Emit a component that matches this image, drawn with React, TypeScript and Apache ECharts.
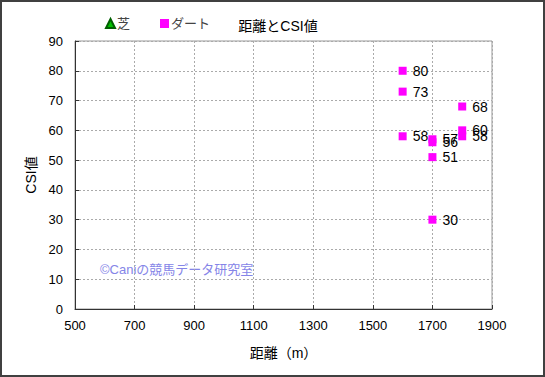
import React, { useEffect, useRef } from "react";
import * as echarts from "echarts";

const seriesNames = ["芝", "ダート"];
const turfPoints: [number, number][] = [];
const dirtDistances = [1600, 1600, 1600, 1700, 1700, 1700, 1700, 1800, 1800, 1800];
const dirtCsi = [80, 73, 58, 57, 56, 51, 30, 68, 60, 58];
const xTicks = { min: 500, max: 1900, interval: 200 };
const yTicks = { min: 0, max: 90, interval: 10 };

const FONT = "'Liberation Sans', 'Noto Sans CJK JP', sans-serif";

export default function App() {
  const ref = useRef<HTMLDivElement>(null);
  useEffect(() => {
    document.body.style.margin = "0";
    const chart = echarts.init(ref.current!, undefined, { renderer: "svg" });
    const dirtData = dirtDistances.map((d, i) => [d, dirtCsi[i]]);
    chart.setOption({
      animation: false,
      backgroundColor: "#ffffff",
      textStyle: { fontFamily: FONT },
      title: {
        text: "距離とCSI値",
        left: 273,
        textAlign: "center",
        top: 14,
        textStyle: { fontSize: 14, fontWeight: "normal", color: "#000", fontFamily: FONT },
      },
      legend: {
        left: 100,
        top: 12,
        itemWidth: 9,
        itemHeight: 9,
        itemGap: 30,
        data: seriesNames,
        textStyle: { fontSize: 13, color: "#444", fontFamily: FONT, padding: [0, 0, 0, -3] },
      },
      grid: {
        left: 75,
        right: 53,
        top: 41,
        bottom: 68,
        show: true,
        borderColor: "#999",
        borderWidth: 1,
      },
      xAxis: {
        type: "value",
        min: xTicks.min,
        max: xTicks.max,
        interval: xTicks.interval,
        name: "距離（m）",
        nameLocation: "middle",
        nameGap: 37,
        nameTextStyle: { fontSize: 14, color: "#000", fontFamily: FONT },
        axisLine: { show: true, onZero: false, lineStyle: { color: "#333" } },
        axisTick: { show: true, inside: true, length: 4, lineStyle: { color: "#333" } },
        axisLabel: { fontSize: 13, color: "#000", margin: 10, fontFamily: FONT, formatter: (v: number) => String(v) },
        splitLine: { show: true, lineStyle: { type: [2, 2], color: "#aaa" } },
      },
      yAxis: {
        type: "value",
        min: yTicks.min,
        max: yTicks.max,
        interval: yTicks.interval,
        name: "CSI値",
        nameLocation: "middle",
        nameRotate: 90,
        nameGap: 37,
        nameTextStyle: { fontSize: 14, color: "#000", fontFamily: FONT },
        axisLine: { show: true, lineStyle: { color: "#333" } },
        axisTick: { show: true, inside: true, length: 4, lineStyle: { color: "#333" } },
        axisLabel: { fontSize: 13, color: "#000", margin: 12, fontFamily: FONT, formatter: (v: number) => String(v) },
        splitLine: { show: true, lineStyle: { type: [2, 2], color: "#aaa" } },
      },
      graphic: [
        {
          type: "rect",
          shape: { x: 1, y: 1, width: 543, height: 375 },
          style: { fill: "none", stroke: "#404040", lineWidth: 2 },
          silent: true,
          z: 100,
        },
        {
          type: "text",
          left: 100,
          top: 263,
          style: { text: "©Caniの競馬データ研究室", fill: "#8585e8", fontSize: 13, fontFamily: FONT },
          silent: true,
        },
      ],
      series: [
        {
          name: seriesNames[0],
          type: "scatter",
          symbol: "triangle",
          symbolSize: 9,
          itemStyle: { color: "#00c000", borderColor: "#006000", borderWidth: 0.5, opacity: 1 },
          data: turfPoints,
        },
        {
          name: seriesNames[1],
          type: "scatter",
          symbol: "rect",
          symbolSize: 8,
          itemStyle: { color: "#ff00ff", opacity: 1 },
          label: {
            show: true,
            position: "right",
            distance: 6,
            fontSize: 14,
            color: "#000",
            fontFamily: FONT,
            formatter: (p: any) => String(p.value[1]),
          },
          data: dirtData,
        },
      ],
    });
    return () => chart.dispose();
  }, []);
  return (
    <div
      ref={ref}
      style={{ width: 545, height: 377, position: "absolute", left: 0, top: 0 }}
    />
  );
}
